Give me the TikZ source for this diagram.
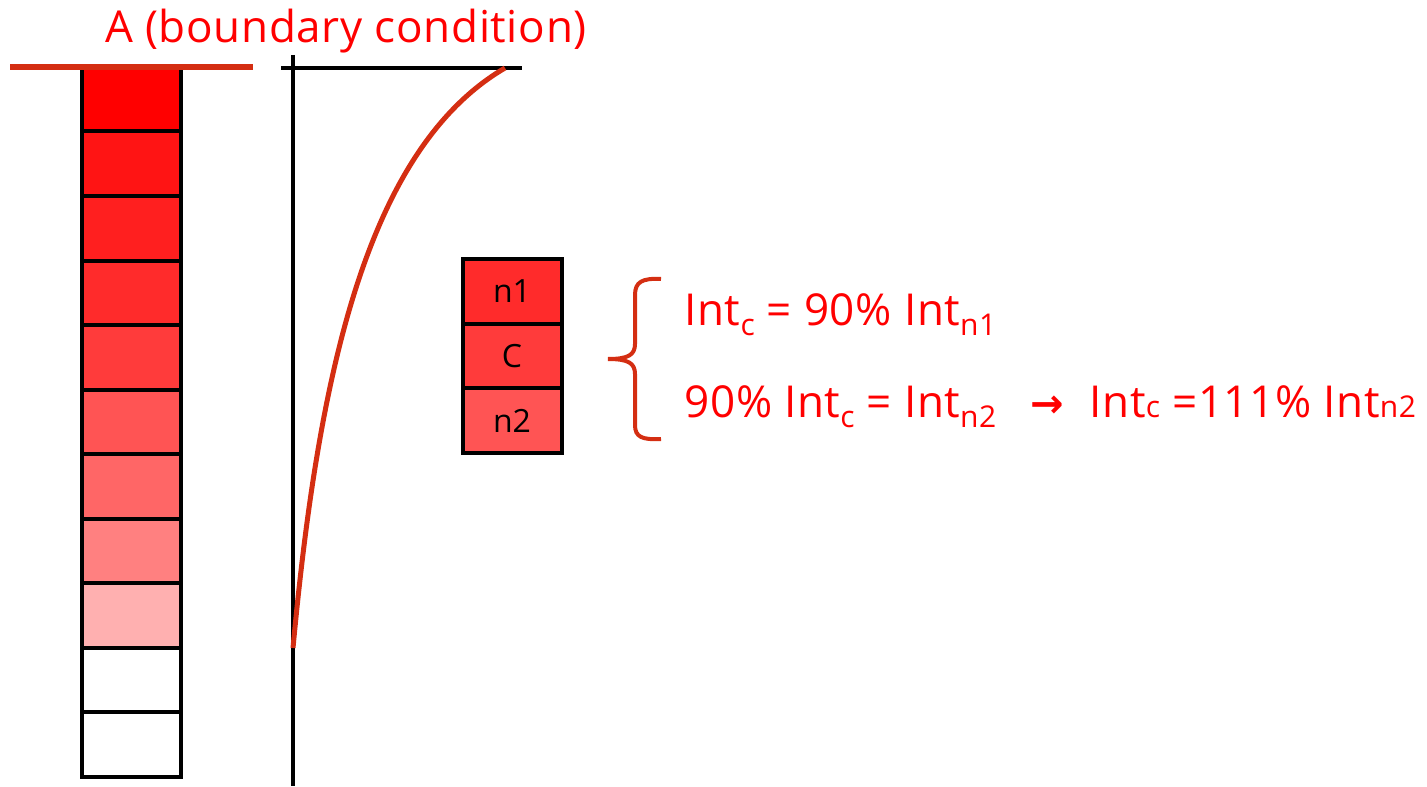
\documentclass[tikz,border=0pt]{standalone}
\usepackage{fontspec}
\setmainfont{Open Sans}
\newfontfamily\symfont{DejaVu Sans}
\usetikzlibrary{positioning}
\definecolor{bcRed}{HTML}{D42E12}
\definecolor{txtRed}{HTML}{FF0000}
\tikzset{
  cell/.style={draw, line width=2pt, minimum width=49.5pt, minimum height=32.25pt,
               inner sep=0pt, outer sep=0pt, font=\fontsize{16}{16}\selectfont},
  axis/.style={line width=1.8pt},
  bound/.style={draw=bcRed, line width=2.6pt},
  profile/.style={draw=bcRed, line width=2.5pt},
  eq/.style={text=txtRed, font=\fontsize{22}{22}\selectfont\addfontfeature{LetterSpace=1.5},
             inner sep=0pt, anchor=base west},
}
\newcommand{\lowsub}[1]{\raisebox{-5pt}{\fontsize{15}{15}\selectfont #1}}
\newcommand{\smsub}[1]{{\fontsize{15}{15}\selectfont #1}}

\begin{document}
\begin{tikzpicture}[x=0.5pt, y=-0.5pt]
\useasboundingbox (0,0) rectangle (1427,786);

% discretised column, darkest at the boundary
\foreach \pct [count=\i] in {100,92,88,83,77,67,60,50,31,0,0}
  \node[cell, fill=red!\pct!white] (col\i) at (131.75, {67+64.5*(\i-0.5)}) {};
\draw[bound] (10,67) -- (253,67);
\node[eq] (title) at (105,43) {A (boundary condition)};

% intensity profile
\draw[axis] (293,55) -- (293,786);
\draw[axis] (281,68) -- (522,68);
\draw[profile] (293,648) .. controls (318,380) and (365,150) .. (505,68);

% centre cell and its neighbours
\node[cell, fill=red!83!white] (n1) at (512,291.5) {n1};
\node[cell, fill=red!77!white, below=0pt of n1] (c) {C};
\node[cell, fill=red!67!white, below=0pt of c] (n2) {n2};

\draw[profile, line width=2pt] (661,279) .. controls (642,278) and (635,282) .. (635,295)
  -- (635,344) .. controls (635,355) and (628,359) .. (608,359)
  .. controls (628,359) and (635,363) .. (635,374)
  -- (635,425) .. controls (635,437) and (642,440) .. (661,439);

\node[eq] (eqa) at (684,325) {Int\lowsub{c} = 90\% Int\lowsub{n1}};
\node[eq] (eqb) at (684,417)
  {90\% Int\lowsub{c} = Int\lowsub{n2}\hspace{17pt}{\symfont\bfseries\fontsize{20}{20}\selectfont →}\hspace{13pt}Int\smsub{c} =111\% Int\smsub{n2}};

\end{tikzpicture}
\end{document}
